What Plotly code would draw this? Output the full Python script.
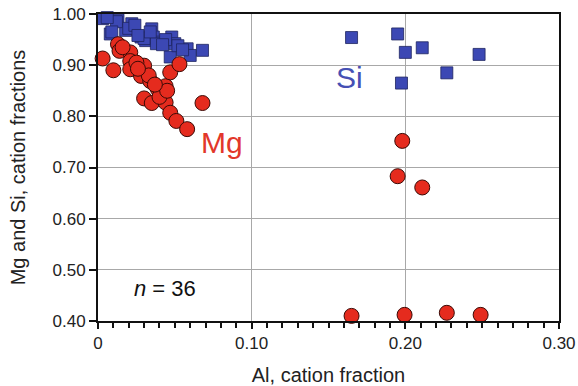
import plotly.graph_objects as go

# Si (squares): Al fraction vs Si cation fraction
si_al = [0.003, 0.013, 0.022, 0.008, 0.018, 0.028, 0.031, 0.035, 0.036, 0.041,
         0.048, 0.050, 0.058, 0.068, 0.047, 0.060, 0.038, 0.012, 0.020, 0.024,
         0.030, 0.044, 0.052, 0.006, 0.034, 0.009, 0.042, 0.055, 0.026,
         0.165, 0.195, 0.200, 0.211, 0.248, 0.227, 0.1975]
si_val = [0.991, 0.988, 0.981, 0.961, 0.968, 0.955, 0.948, 0.971, 0.955, 0.945,
          0.955, 0.942, 0.932, 0.929, 0.916, 0.919, 0.942, 0.985, 0.972, 0.978,
          0.952, 0.950, 0.938, 0.993, 0.965, 0.965, 0.940, 0.930, 0.958,
          0.954, 0.961, 0.925, 0.934, 0.921, 0.885, 0.865]

# Mg (circles): Al fraction vs Mg cation fraction
mg_al = [0.003, 0.010, 0.013, 0.014, 0.021, 0.021, 0.021, 0.028, 0.030, 0.034,
         0.039, 0.030, 0.035, 0.042, 0.044, 0.044, 0.047, 0.053, 0.047, 0.051,
         0.058, 0.068, 0.025, 0.033, 0.040, 0.016, 0.026, 0.045, 0.037,
         0.198, 0.195, 0.211, 0.165, 0.1995, 0.227, 0.249]
mg_val = [0.913, 0.890, 0.941, 0.928, 0.925, 0.908, 0.892, 0.879, 0.899, 0.869,
          0.853, 0.835, 0.826, 0.846, 0.859, 0.827, 0.886, 0.902, 0.807, 0.791,
          0.775, 0.826, 0.905, 0.880, 0.838, 0.935, 0.893, 0.850, 0.862,
          0.752, 0.683, 0.661, 0.410, 0.412, 0.416, 0.412]

x_ticks = [0, 0.10, 0.20, 0.30]
x_tick_labels = ["0", "0.10", "0.20", "0.30"]
y_ticks = [0.40, 0.50, 0.60, 0.70, 0.80, 0.90, 1.00]
y_tick_labels = ["0.40", "0.50", "0.60", "0.70", "0.80", "0.90", "1.00"]

FONT = "Arial, Liberation Sans, sans-serif"
BLUE = "#3c48b4"
RED = "#e52b1e"

fig = go.Figure()
fig.add_trace(go.Scatter(
    x=si_al, y=si_val, mode="markers", cliponaxis=False,
    marker=dict(symbol="square", size=12, color=BLUE,
                line=dict(color="#1e2460", width=0.8)),
    showlegend=False))
fig.add_trace(go.Scatter(
    x=mg_al, y=mg_val, mode="markers", cliponaxis=False,
    marker=dict(symbol="circle", size=15, color=RED,
                line=dict(color="#3a0a06", width=1)),
    showlegend=False))

fig.add_annotation(x=0.1634, y=0.876, text="Si", showarrow=False,
                   font=dict(family=FONT, size=30, color="#4650b4"))
fig.add_annotation(x=0.081, y=0.748, text="Mg", showarrow=False,
                   font=dict(family=FONT, size=30, color="#e2372a"))
fig.add_annotation(x=0.0436, y=0.4626, text="<i>n</i> = 36", showarrow=False,
                   font=dict(family=FONT, size=22, color="#111111"))

fig.update_layout(
    width=578, height=386,
    margin=dict(l=98, r=19, t=14, b=65),
    paper_bgcolor="white", plot_bgcolor="white",
    font=dict(family=FONT, size=17, color="#222222"),
    xaxis=dict(
        range=[0, 0.30], tickvals=x_ticks, ticktext=x_tick_labels,
        automargin=False,
        showline=True, linecolor="#111111", linewidth=2, mirror=True,
        ticks="outside", ticklen=6, tickwidth=1.5, tickcolor="#111111",
        showgrid=True, gridcolor="#a8a8a8", gridwidth=1, zeroline=False,
        minor=dict(dtick=0.01, ticks="outside", ticklen=5, tickwidth=1.5,
                   tickcolor="#111111", showgrid=False),
        title=dict(text="Al, cation fraction", font=dict(size=20, color="#222222"),
                   standoff=17),
    ),
    yaxis=dict(
        range=[0.40, 1.00], tickvals=y_ticks, ticktext=y_tick_labels,
        automargin=False,
        showline=True, linecolor="#111111", linewidth=2, mirror=True,
        ticks="outside", ticklen=7, tickwidth=1.5, tickcolor="#111111",
        showgrid=True, gridcolor="#a8a8a8", gridwidth=1, zeroline=False,
        title=dict(text="Mg and Si, cation fractions",
                   font=dict(size=20, color="#222222"), standoff=22),
    ),
)

fig.write_html("out.html")
